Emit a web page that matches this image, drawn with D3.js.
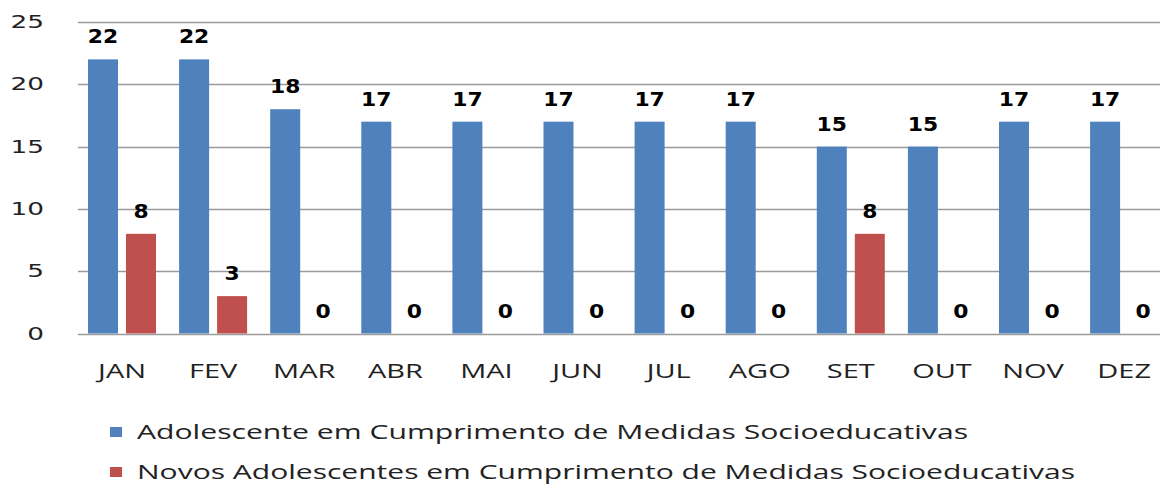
<!DOCTYPE html>
<html>
<head>
<meta charset="utf-8">
<script src="https://cdn.jsdelivr.net/npm/d3@7"></script>
<style>
  body { margin: 0; background: #fff; }
  svg { display: block; }
</style>
</head>
<body>
<script>
const months = ['JAN', 'FEV', 'MAR', 'ABR', 'MAI', 'JUN', 'JUL', 'AGO', 'SET', 'OUT', 'NOV', 'DEZ'];
const seriesNames = [
  'Adolescente em Cumprimento de Medidas Socioeducativas',
  'Novos Adolescentes em Cumprimento de Medidas Socioeducativas'
];
const adolescentes = [22, 22, 18, 17, 17, 17, 17, 17, 15, 15, 17, 17];
const novos = [8, 3, 0, 0, 0, 0, 0, 0, 8, 0, 0, 0];
const yTicks = [0, 5, 10, 15, 20, 25];
const colors = ['#4f81bd', '#c0504d'];

const width = 1160;
const height = 484;
// the source picture is stretched sideways, so text is widened too
const stretch = 1.45;

const svg = d3.select('body')
  .append('svg')
  .attr('width', width)
  .attr('height', height);

// SCALES
const x = d3.scaleBand()
  .domain(months)
  .range([76.5, 76.5 + 12 * 91.1]);

const xInner = d3.scaleBand()
  .domain([0, 1])
  .range([11.5, 79.5])
  .paddingInner(0.2105);

const y = d3.scaleLinear()
  .domain([0, 25])
  .range([333.5, 22]);

// GRID
svg.append('g')
  .selectAll('line')
  .data(yTicks)
  .enter()
  .append('line')
  .attr('x1', 78)
  .attr('x2', width)
  .attr('y1', d => Math.round(y(d)) + 0.5)
  .attr('y2', d => Math.round(y(d)) + 0.5)
  .attr('stroke', '#9a9a9a')
  .attr('stroke-width', 1.3);

// Y LABELS
svg.append('g')
  .selectAll('text')
  .data(yTicks)
  .enter()
  .append('text')
  .attr('transform', d => `translate(44,${y(d) + 6}) scale(${stretch + 0.1},1)`)
  .attr('text-anchor', 'end')
  .style('font-family', 'DejaVu Sans')
  .style('font-size', '17px')
  .style('fill', '#222')
  .text(d => d);

// X LABELS
svg.append('g')
  .selectAll('text')
  .data(months)
  .enter()
  .append('text')
  .attr('transform', d => `translate(${x(d) + x.bandwidth() / 2},378) scale(${stretch},1)`)
  .attr('text-anchor', 'middle')
  .style('font-family', 'Open Sans')
  .style('font-size', '20px')
  .style('fill', '#222')
  .text(d => d);

// BARS
const rows = months.map((m, i) => ({ month: m, values: [adolescentes[i], novos[i]] }));

const groups = svg.append('g')
  .selectAll('g')
  .data(rows)
  .enter()
  .append('g')
  .attr('transform', d => `translate(${x(d.month)},0)`);

groups.selectAll('rect')
  .data(d => d.values.map((v, s) => ({ v, s })))
  .enter()
  .append('rect')
  .attr('x', d => xInner(d.s))
  .attr('width', xInner.bandwidth())
  .attr('y', d => y(d.v))
  .attr('height', d => y(0) - y(d.v))
  .attr('fill', d => colors[d.s]);

groups.selectAll('text')
  .data(d => d.values.map((v, s) => ({ v, s })))
  .enter()
  .append('text')
  .attr('transform', d => `translate(${xInner(d.s) + xInner.bandwidth() / 2},${y(d.v) - 16}) scale(1.15,1)`)
  .attr('text-anchor', 'middle')
  .style('font-family', 'DejaVu Sans')
  .style('font-weight', 'bold')
  .style('font-size', '19px')
  .style('fill', '#000')
  .text(d => d.v);

// LEGEND
const legendWidths = [831, 938];
const legend = svg.append('g')
  .selectAll('g')
  .data(seriesNames)
  .enter()
  .append('g')
  .attr('transform', (d, i) => `translate(110,${427 + i * 40})`);

legend.append('rect')
  .attr('width', 12)
  .attr('height', 10)
  .attr('fill', (d, i) => colors[i]);

legend.append('text')
  .attr('x', 27)
  .attr('y', 12)
  .attr('textLength', (d, i) => legendWidths[i])
  .attr('lengthAdjust', 'spacingAndGlyphs')
  .style('font-family', 'Open Sans')
  .style('font-size', '20px')
  .style('fill', '#222')
  .text(d => d);
</script>
</body>
</html>
